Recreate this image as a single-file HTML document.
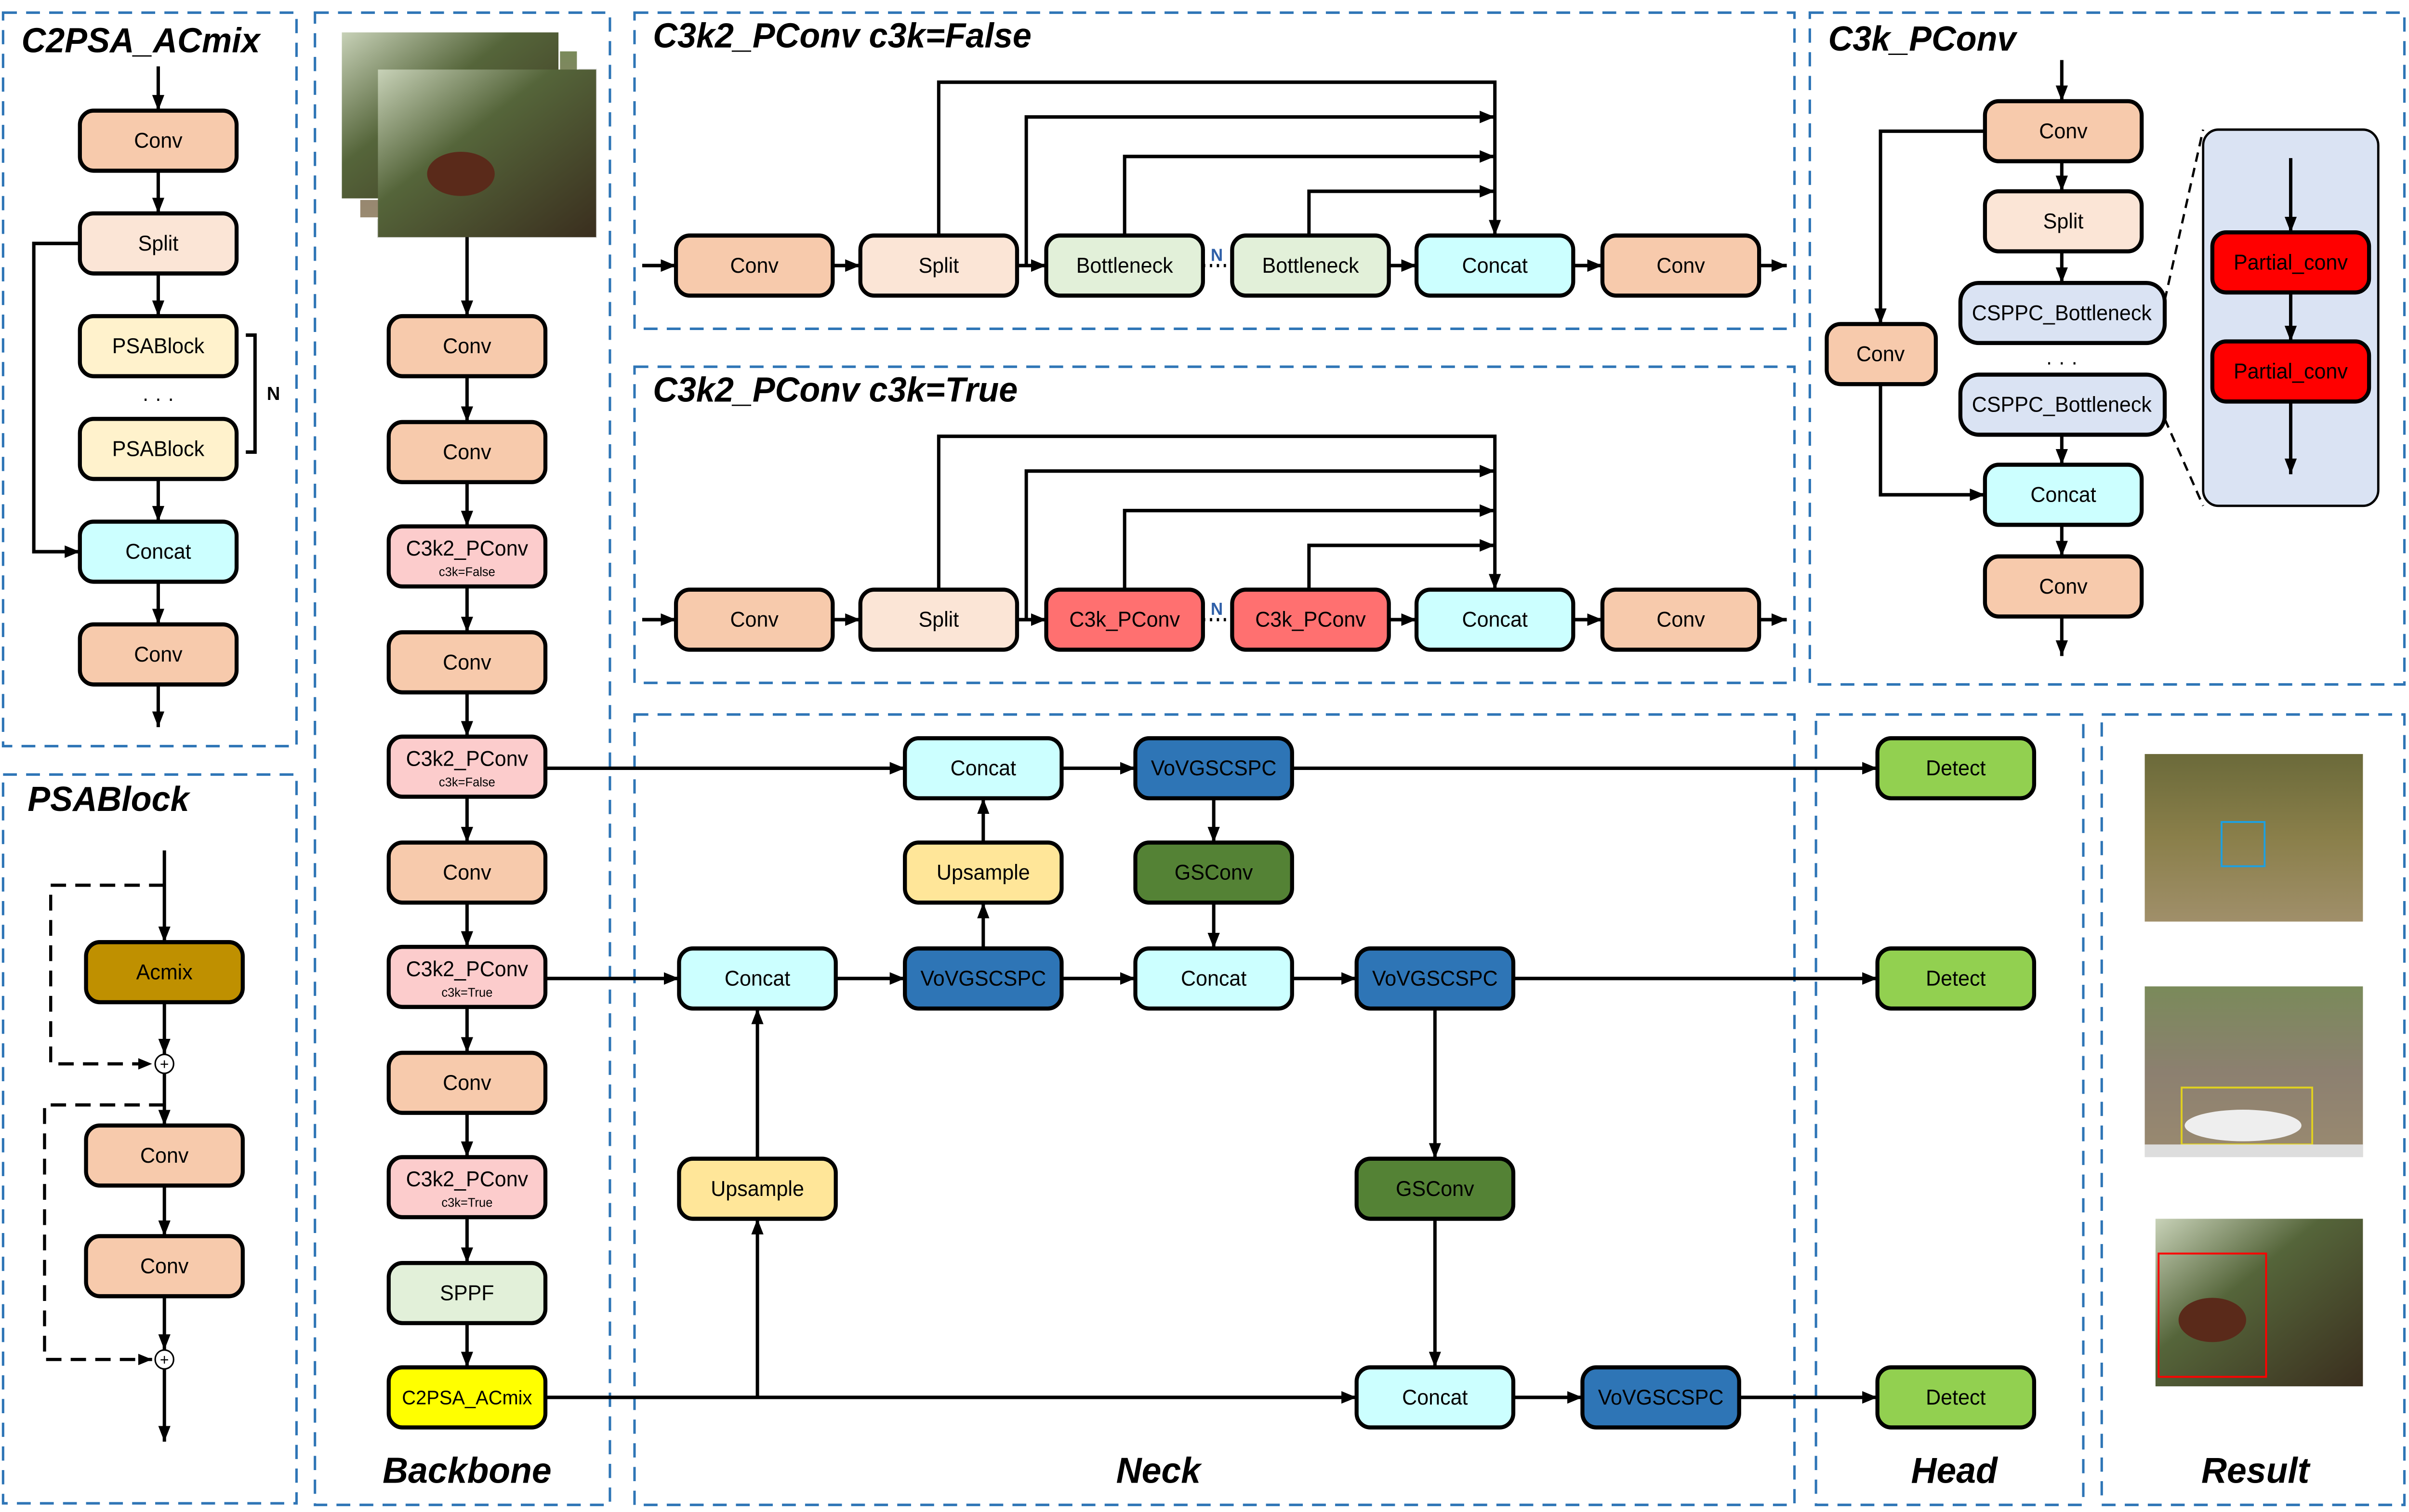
<!DOCTYPE html>
<html><head><meta charset="utf-8"><style>
html,body{margin:0;padding:0;background:#fff;overflow:hidden;width:100%;height:100%}
svg{display:block;position:fixed;left:0;top:0;width:100vw;height:100vh}
text{font-family:"Liberation Sans",sans-serif;fill:#000}
.b{stroke:#000;stroke-width:2.6}
.t{font-size:13.5px;text-anchor:middle;dominant-baseline:central}
.s{font-size:8px;text-anchor:middle;dominant-baseline:central}
.ti{font-size:22px;font-weight:bold;font-style:italic}
.tc{font-size:23px;font-weight:bold;font-style:italic;text-anchor:middle}
.p{fill:none;stroke:#2e75b6;stroke-width:1.6;stroke-dasharray:9,6}
.l{fill:none;stroke:#000;stroke-width:2.2}
.d{fill:none;stroke:#000;stroke-width:2;stroke-dasharray:10,6}
</style></head><body>
<svg viewBox="0 0 1568 956.5" preserveAspectRatio="none" xmlns="http://www.w3.org/2000/svg">
<defs>
<marker id="a" viewBox="0 0 10 10" refX="10" refY="5" markerWidth="4.5" markerHeight="4.5" orient="auto" markerUnits="strokeWidth"><path d="M0,1 L10,5 L0,9 z" fill="#000"/></marker>
<linearGradient id="g1" x1="0" y1="0" x2="1" y2="1"><stop offset="0" stop-color="#c8d2b8"/><stop offset="0.4" stop-color="#55653a"/><stop offset="1" stop-color="#3a2e1e"/></linearGradient>
<linearGradient id="g2" x1="0" y1="0" x2="0" y2="1"><stop offset="0" stop-color="#6b6a3a"/><stop offset="0.5" stop-color="#8a7f4a"/><stop offset="1" stop-color="#a08f6a"/></linearGradient>
<linearGradient id="g3" x1="0" y1="0" x2="0" y2="1"><stop offset="0" stop-color="#7a8a5a"/><stop offset="0.5" stop-color="#8c8070"/><stop offset="1" stop-color="#9a8a70"/></linearGradient>
</defs>

<rect class="p" x="2" y="8" width="191" height="464"/>
<rect class="p" x="2" y="490" width="191" height="461"/>
<rect class="p" x="205" y="8" width="192" height="944"/>
<rect class="p" x="413" y="8" width="755" height="200"/>
<rect class="p" x="413" y="232" width="755" height="200"/>
<rect class="p" x="1178" y="8" width="387" height="425"/>
<rect class="p" x="413" y="452" width="755" height="500"/>
<rect class="p" x="1182" y="452" width="174" height="500"/>
<rect class="p" x="1368" y="452" width="197" height="500"/>

<text class="ti" x="14" y="33">C2PSA_ACmix</text>
<text class="ti" x="18" y="513">PSABlock</text>
<text class="ti" x="425" y="30">C3k2_PConv c3k=False</text>
<text class="ti" x="425" y="254">C3k2_PConv c3k=True</text>
<text class="ti" x="1190" y="32">C3k_PConv</text>
<text class="tc" x="304" y="938">Backbone</text>
<text class="tc" x="754" y="938">Neck</text>
<text class="tc" x="1272" y="938">Head</text>
<text class="tc" x="1468" y="938">Result</text>

<line class="l" x1="103" y1="42" x2="103" y2="70" marker-end="url(#a)"/>
<line class="l" x1="103" y1="108" x2="103" y2="135" marker-end="url(#a)"/>
<line class="l" x1="103" y1="173" x2="103" y2="200" marker-end="url(#a)"/>
<line class="l" x1="103" y1="303" x2="103" y2="330" marker-end="url(#a)"/>
<line class="l" x1="103" y1="368" x2="103" y2="395" marker-end="url(#a)"/>
<line class="l" x1="103" y1="433" x2="103" y2="460" marker-end="url(#a)"/>
<polyline class="l" points="52,154 22,154 22,349 52,349" marker-end="url(#a)"/>
<polyline class="l" points="160,212 166,212 166,286 160,286"/>
<text x="178" y="253" style="font-size:12px;font-weight:bold;text-anchor:middle">N</text>
<text x="103" y="252" class="t">· · ·</text>
<rect class="b" x="52" y="70" width="102" height="38" rx="9" fill="#f7caac"/><text class="t" x="103" y="89">Conv</text>
<rect class="b" x="52" y="135" width="102" height="38" rx="9" fill="#fbe5d6"/><text class="t" x="103" y="154">Split</text>
<rect class="b" x="52" y="200" width="102" height="38" rx="9" fill="#fff2cc"/><text class="t" x="103" y="219">PSABlock</text>
<rect class="b" x="52" y="265" width="102" height="38" rx="9" fill="#fff2cc"/><text class="t" x="103" y="284">PSABlock</text>
<rect class="b" x="52" y="330" width="102" height="38" rx="9" fill="#ccffff"/><text class="t" x="103" y="349">Concat</text>
<rect class="b" x="52" y="395" width="102" height="38" rx="9" fill="#f7caac"/><text class="t" x="103" y="414">Conv</text>

<line class="l" x1="107" y1="538" x2="107" y2="596" marker-end="url(#a)"/>
<line class="l" x1="107" y1="634" x2="107" y2="667" marker-end="url(#a)"/>
<line class="l" x1="107" y1="679" x2="107" y2="712" marker-end="url(#a)"/>
<line class="l" x1="107" y1="750" x2="107" y2="782" marker-end="url(#a)"/>
<line class="l" x1="107" y1="820" x2="107" y2="854" marker-end="url(#a)"/>
<line class="l" x1="107" y1="866" x2="107" y2="912" marker-end="url(#a)"/>
<polyline class="d" points="107,560 33,560 33,673 99,673" marker-end="url(#a)"/>
<polyline class="d" points="107,699 29,699 29,860 99,860" marker-end="url(#a)"/>
<rect class="b" x="56" y="596" width="102" height="38" rx="9" fill="#bf9000"/><text class="t" x="107" y="615">Acmix</text>
<rect class="b" x="56" y="712" width="102" height="38" rx="9" fill="#f7caac"/><text class="t" x="107" y="731">Conv</text>
<rect class="b" x="56" y="782" width="102" height="38" rx="9" fill="#f7caac"/><text class="t" x="107" y="801">Conv</text>
<circle cx="107" cy="673" r="6" fill="#fff" stroke="#000" stroke-width="1"/><text x="107" y="676.5" style="font-size:10px;text-anchor:middle">+</text>
<circle cx="107" cy="860" r="6" fill="#fff" stroke="#000" stroke-width="1"/><text x="107" y="863.5" style="font-size:10px;text-anchor:middle">+</text>

<rect x="246" y="44" width="142" height="106" fill="#fff" stroke="#ddd"/>
<rect x="234" y="32" width="142" height="106" fill="url(#g3)" stroke="#fff"/>
<rect x="222" y="20" width="142" height="106" fill="url(#g1)" stroke="#fff"/>
<rect x="246" y="44" width="142" height="106" fill="url(#g1)"/>
<ellipse cx="300" cy="110" rx="22" ry="14" fill="#5a2a1a"/>
<line class="l" x1="304" y1="150" x2="304" y2="200" marker-end="url(#a)"/>
<line class="l" x1="304" y1="238" x2="304" y2="267" marker-end="url(#a)"/>
<line class="l" x1="304" y1="305" x2="304" y2="333" marker-end="url(#a)"/>
<line class="l" x1="304" y1="371" x2="304" y2="400" marker-end="url(#a)"/>
<line class="l" x1="304" y1="438" x2="304" y2="466" marker-end="url(#a)"/>
<line class="l" x1="304" y1="504" x2="304" y2="533" marker-end="url(#a)"/>
<line class="l" x1="304" y1="571" x2="304" y2="599" marker-end="url(#a)"/>
<line class="l" x1="304" y1="637" x2="304" y2="666" marker-end="url(#a)"/>
<line class="l" x1="304" y1="704" x2="304" y2="732" marker-end="url(#a)"/>
<line class="l" x1="304" y1="770" x2="304" y2="799" marker-end="url(#a)"/>
<line class="l" x1="304" y1="837" x2="304" y2="865" marker-end="url(#a)"/>
<rect class="b" x="253" y="200" width="102" height="38" rx="9" fill="#f7caac"/><text class="t" x="304" y="219">Conv</text>
<rect class="b" x="253" y="267" width="102" height="38" rx="9" fill="#f7caac"/><text class="t" x="304" y="286">Conv</text>
<rect class="b" x="253" y="333" width="102" height="38" rx="9" fill="#fccccc"/><text class="t" x="304" y="347">C3k2_PConv</text><text class="s" x="304" y="362">c3k=False</text>
<rect class="b" x="253" y="400" width="102" height="38" rx="9" fill="#f7caac"/><text class="t" x="304" y="419">Conv</text>
<rect class="b" x="253" y="466" width="102" height="38" rx="9" fill="#fccccc"/><text class="t" x="304" y="480">C3k2_PConv</text><text class="s" x="304" y="495">c3k=False</text>
<rect class="b" x="253" y="533" width="102" height="38" rx="9" fill="#f7caac"/><text class="t" x="304" y="552">Conv</text>
<rect class="b" x="253" y="599" width="102" height="38" rx="9" fill="#fccccc"/><text class="t" x="304" y="613">C3k2_PConv</text><text class="s" x="304" y="628">c3k=True</text>
<rect class="b" x="253" y="666" width="102" height="38" rx="9" fill="#f7caac"/><text class="t" x="304" y="685">Conv</text>
<rect class="b" x="253" y="732" width="102" height="38" rx="9" fill="#fccccc"/><text class="t" x="304" y="746">C3k2_PConv</text><text class="s" x="304" y="761">c3k=True</text>
<rect class="b" x="253" y="799" width="102" height="38" rx="9" fill="#e2f0d9"/><text class="t" x="304" y="818">SPPF</text>
<rect class="b" x="253" y="865" width="102" height="38" rx="9" fill="#ffff00"/><text class="t" x="304" y="884" style="font-size:12.5px">C2PSA_ACmix</text>

<g>
<polyline class="l" points="611,149 611,52 973,52 973,149" marker-end="url(#a)"/>
<polyline class="l" points="668,168 668,74 973,74" marker-end="url(#a)"/>
<polyline class="l" points="732,149 732,99 973,99" marker-end="url(#a)"/>
<polyline class="l" points="852,149 852,121 973,121" marker-end="url(#a)"/>
<line class="l" x1="418" y1="168" x2="440" y2="168" marker-end="url(#a)"/>
<line class="l" x1="542" y1="168" x2="560" y2="168" marker-end="url(#a)"/>
<line class="l" x1="662" y1="168" x2="681" y2="168" marker-end="url(#a)"/>
<line x1="783" y1="168" x2="802" y2="168" stroke="#000" stroke-width="2" stroke-dasharray="1.5,3"/>
<line class="l" x1="904" y1="168" x2="922" y2="168" marker-end="url(#a)"/>
<line class="l" x1="1024" y1="168" x2="1043" y2="168" marker-end="url(#a)"/>
<line class="l" x1="1145" y1="168" x2="1163" y2="168" marker-end="url(#a)"/>
<text x="792" y="165" style="font-size:11px;font-weight:bold;fill:#2e5fa8;text-anchor:middle">N</text>
<rect class="b" x="440" y="149" width="102" height="38" rx="9" fill="#f7caac"/><text class="t" x="491" y="168">Conv</text>
<rect class="b" x="560" y="149" width="102" height="38" rx="9" fill="#fbe5d6"/><text class="t" x="611" y="168">Split</text>
<rect class="b" x="681" y="149" width="102" height="38" rx="9" fill="#e2f0d9"/><text class="t" x="732" y="168">Bottleneck</text>
<rect class="b" x="802" y="149" width="102" height="38" rx="9" fill="#e2f0d9"/><text class="t" x="853" y="168">Bottleneck</text>
<rect class="b" x="922" y="149" width="102" height="38" rx="9" fill="#ccffff"/><text class="t" x="973" y="168">Concat</text>
<rect class="b" x="1043" y="149" width="102" height="38" rx="9" fill="#f7caac"/><text class="t" x="1094" y="168">Conv</text>
</g>
<g>
<polyline class="l" points="611,373 611,276 973,276 973,373" marker-end="url(#a)"/>
<polyline class="l" points="668,392 668,298 973,298" marker-end="url(#a)"/>
<polyline class="l" points="732,373 732,323 973,323" marker-end="url(#a)"/>
<polyline class="l" points="852,373 852,345 973,345" marker-end="url(#a)"/>
<line class="l" x1="418" y1="392" x2="440" y2="392" marker-end="url(#a)"/>
<line class="l" x1="542" y1="392" x2="560" y2="392" marker-end="url(#a)"/>
<line class="l" x1="662" y1="392" x2="681" y2="392" marker-end="url(#a)"/>
<line x1="783" y1="392" x2="802" y2="392" stroke="#000" stroke-width="2" stroke-dasharray="1.5,3"/>
<line class="l" x1="904" y1="392" x2="922" y2="392" marker-end="url(#a)"/>
<line class="l" x1="1024" y1="392" x2="1043" y2="392" marker-end="url(#a)"/>
<line class="l" x1="1145" y1="392" x2="1163" y2="392" marker-end="url(#a)"/>
<text x="792" y="389" style="font-size:11px;font-weight:bold;fill:#2e5fa8;text-anchor:middle">N</text>
<rect class="b" x="440" y="373" width="102" height="38" rx="9" fill="#f7caac"/><text class="t" x="491" y="392">Conv</text>
<rect class="b" x="560" y="373" width="102" height="38" rx="9" fill="#fbe5d6"/><text class="t" x="611" y="392">Split</text>
<rect class="b" x="681" y="373" width="102" height="38" rx="9" fill="#ff7070"/><text class="t" x="732" y="392">C3k_PConv</text>
<rect class="b" x="802" y="373" width="102" height="38" rx="9" fill="#ff7070"/><text class="t" x="853" y="392">C3k_PConv</text>
<rect class="b" x="922" y="373" width="102" height="38" rx="9" fill="#ccffff"/><text class="t" x="973" y="392">Concat</text>
<rect class="b" x="1043" y="373" width="102" height="38" rx="9" fill="#f7caac"/><text class="t" x="1094" y="392">Conv</text>
</g>

<line class="l" x1="1342" y1="38" x2="1342" y2="64" marker-end="url(#a)"/>
<line class="l" x1="1342" y1="102" x2="1342" y2="121" marker-end="url(#a)"/>
<line class="l" x1="1342" y1="159" x2="1342" y2="179" marker-end="url(#a)"/>
<line class="l" x1="1342" y1="275" x2="1342" y2="294" marker-end="url(#a)"/>
<line class="l" x1="1342" y1="332" x2="1342" y2="352" marker-end="url(#a)"/>
<line class="l" x1="1342" y1="390" x2="1342" y2="415" marker-end="url(#a)"/>
<polyline class="l" points="1292,83 1224,83 1224,205" marker-end="url(#a)"/>
<polyline class="l" points="1224,243 1224,313 1292,313" marker-end="url(#a)"/>
<text x="1342" y="229" class="t">· · ·</text>
<line x1="1409" y1="190" x2="1434" y2="82" stroke="#000" stroke-width="1.5" stroke-dasharray="6,4"/>
<line x1="1409" y1="265" x2="1434" y2="320" stroke="#000" stroke-width="1.5" stroke-dasharray="6,4"/>
<rect x="1434" y="82" width="114" height="238" rx="10" fill="#dae3f3" stroke="#000" stroke-width="1.5"/>
<line class="l" x1="1491" y1="100" x2="1491" y2="147" marker-end="url(#a)"/>
<line class="l" x1="1491" y1="185" x2="1491" y2="216" marker-end="url(#a)"/>
<line class="l" x1="1491" y1="254" x2="1491" y2="300" marker-end="url(#a)"/>
<rect class="b" x="1440" y="147" width="102" height="38" rx="9" fill="#ff0000"/><text class="t" x="1491" y="166">Partial_conv</text>
<rect class="b" x="1440" y="216" width="102" height="38" rx="9" fill="#ff0000"/><text class="t" x="1491" y="235">Partial_conv</text>
<rect class="b" x="1292" y="64" width="102" height="38" rx="9" fill="#f7caac"/><text class="t" x="1343" y="83">Conv</text>
<rect class="b" x="1292" y="121" width="102" height="38" rx="9" fill="#fbe5d6"/><text class="t" x="1343" y="140">Split</text>
<rect class="b" x="1276" y="179" width="133" height="38" rx="12" fill="#dae3f3"/><text class="t" x="1342" y="198">CSPPC_Bottleneck</text>
<rect class="b" x="1276" y="237" width="133" height="38" rx="12" fill="#dae3f3"/><text class="t" x="1342" y="256">CSPPC_Bottleneck</text>
<rect class="b" x="1292" y="294" width="102" height="38" rx="9" fill="#ccffff"/><text class="t" x="1343" y="313">Concat</text>
<rect class="b" x="1292" y="352" width="102" height="38" rx="9" fill="#f7caac"/><text class="t" x="1343" y="371">Conv</text>
<rect class="b" x="1189" y="205" width="71" height="38" rx="9" fill="#f7caac"/><text class="t" x="1224" y="224">Conv</text>

<line class="l" x1="355" y1="486" x2="589" y2="486" marker-end="url(#a)"/>
<line class="l" x1="691" y1="486" x2="739" y2="486" marker-end="url(#a)"/>
<line class="l" x1="841" y1="486" x2="1222" y2="486" marker-end="url(#a)"/>
<line class="l" x1="790" y1="505" x2="790" y2="533" marker-end="url(#a)"/>
<line class="l" x1="790" y1="571" x2="790" y2="600" marker-end="url(#a)"/>
<line class="l" x1="640" y1="533" x2="640" y2="505" marker-end="url(#a)"/>
<line class="l" x1="640" y1="600" x2="640" y2="571" marker-end="url(#a)"/>
<line class="l" x1="355" y1="619" x2="442" y2="619" marker-end="url(#a)"/>
<line class="l" x1="544" y1="619" x2="589" y2="619" marker-end="url(#a)"/>
<line class="l" x1="691" y1="619" x2="739" y2="619" marker-end="url(#a)"/>
<line class="l" x1="841" y1="619" x2="883" y2="619" marker-end="url(#a)"/>
<line class="l" x1="985" y1="619" x2="1222" y2="619" marker-end="url(#a)"/>
<line class="l" x1="934" y1="638" x2="934" y2="733" marker-end="url(#a)"/>
<line class="l" x1="934" y1="771" x2="934" y2="865" marker-end="url(#a)"/>
<line class="l" x1="355" y1="884" x2="883" y2="884" marker-end="url(#a)"/>
<line class="l" x1="493" y1="884" x2="493" y2="771" marker-end="url(#a)"/>
<line class="l" x1="493" y1="733" x2="493" y2="638" marker-end="url(#a)"/>
<line class="l" x1="985" y1="884" x2="1030" y2="884" marker-end="url(#a)"/>
<line class="l" x1="1132" y1="884" x2="1222" y2="884" marker-end="url(#a)"/>
<rect class="b" x="589" y="467" width="102" height="38" rx="9" fill="#ccffff"/><text class="t" x="640" y="486">Concat</text>
<rect class="b" x="739" y="467" width="102" height="38" rx="9" fill="#2e75b6"/><text class="t" x="790" y="486">VoVGSCSPC</text>
<rect class="b" x="589" y="533" width="102" height="38" rx="9" fill="#ffe699"/><text class="t" x="640" y="552">Upsample</text>
<rect class="b" x="739" y="533" width="102" height="38" rx="9" fill="#548235"/><text class="t" x="790" y="552">GSConv</text>
<rect class="b" x="442" y="600" width="102" height="38" rx="9" fill="#ccffff"/><text class="t" x="493" y="619">Concat</text>
<rect class="b" x="589" y="600" width="102" height="38" rx="9" fill="#2e75b6"/><text class="t" x="640" y="619">VoVGSCSPC</text>
<rect class="b" x="739" y="600" width="102" height="38" rx="9" fill="#ccffff"/><text class="t" x="790" y="619">Concat</text>
<rect class="b" x="883" y="600" width="102" height="38" rx="9" fill="#2e75b6"/><text class="t" x="934" y="619">VoVGSCSPC</text>
<rect class="b" x="442" y="733" width="102" height="38" rx="9" fill="#ffe699"/><text class="t" x="493" y="752">Upsample</text>
<rect class="b" x="883" y="733" width="102" height="38" rx="9" fill="#548235"/><text class="t" x="934" y="752">GSConv</text>
<rect class="b" x="883" y="865" width="102" height="38" rx="9" fill="#ccffff"/><text class="t" x="934" y="884">Concat</text>
<rect class="b" x="1030" y="865" width="102" height="38" rx="9" fill="#2e75b6"/><text class="t" x="1081" y="884">VoVGSCSPC</text>

<rect class="b" x="1222" y="467" width="102" height="38" rx="9" fill="#92d050"/><text class="t" x="1273" y="486">Detect</text>
<rect class="b" x="1222" y="600" width="102" height="38" rx="9" fill="#92d050"/><text class="t" x="1273" y="619">Detect</text>
<rect class="b" x="1222" y="865" width="102" height="38" rx="9" fill="#92d050"/><text class="t" x="1273" y="884">Detect</text>

<rect x="1396" y="477" width="142" height="106" fill="url(#g2)"/>
<rect x="1446" y="520" width="28" height="28" fill="none" stroke="#1ea0e0" stroke-width="1.2"/>
<rect x="1396" y="624" width="142" height="108" fill="url(#g3)"/>
<ellipse cx="1460" cy="712" rx="38" ry="10" fill="#eee"/>
<rect x="1420" y="688" width="85" height="36" fill="none" stroke="#e0d020" stroke-width="1.2"/>
<rect x="1396" y="724" width="142" height="8" fill="#ddd"/>
<rect x="1403" y="771" width="135" height="106" fill="url(#g1)"/>
<ellipse cx="1440" cy="835" rx="22" ry="14" fill="#5a2a1a"/>
<rect x="1405" y="793" width="70" height="78" fill="none" stroke="#ff0000" stroke-width="1.2"/>
</svg>
</body></html>
